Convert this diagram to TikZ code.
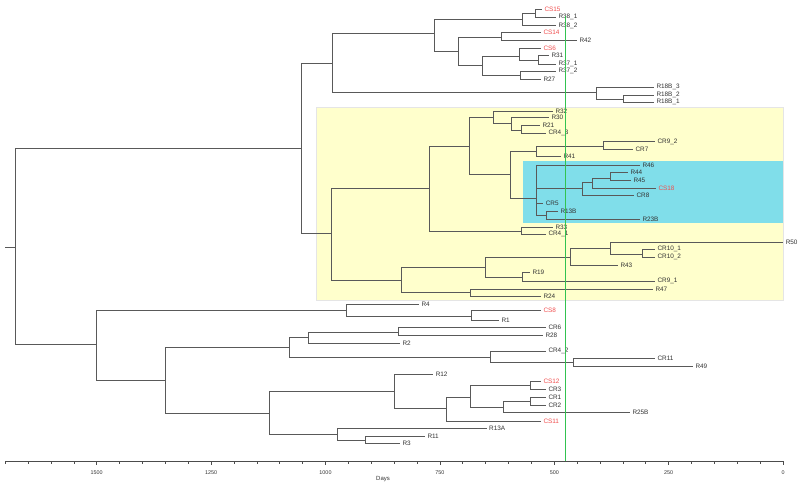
\documentclass[tikz,border=0pt]{standalone}
\usepackage{fontspec}
\setmainfont{Liberation Sans}
\definecolor{hlyel}{RGB}{255,255,204}
\definecolor{hlcyan}{RGB}{128,222,234}
\definecolor{csred}{RGB}{240,80,80}
\definecolor{gline}{RGB}{50,195,80}
\begin{document}
\begin{tikzpicture}[x=1pt,y=-1pt,
  every node/.style={font=\fontsize{6.4}{7}\selectfont},
  lf/.style={anchor=west,inner xsep=2.5pt,inner ysep=0.5pt,outer sep=0pt,text=black!80},
  lfr/.style={lf,text=csred},
  br/.style={black!65,line width=0.75pt},
  tk/.style={black!70,line width=0.6pt},
  tl/.style={font=\fontsize{5.4}{6}\selectfont,text=black!80,inner sep=0pt}]
\useasboundingbox (0,0) rectangle (800,487);
\fill[hlyel,draw=black!10] (316,107) rectangle (783,300);
\fill[hlcyan] (523,161) rectangle (783,223);
% inner nodes
\coordinate (stub) at (5,247); \coordinate (root) at (15,247);
\coordinate (a) at (301,148.3); \coordinate (a1) at (332,63.3);
\coordinate (t1) at (434,33.3); \coordinate (t11) at (522,19.3); \coordinate (t111) at (535,13.3);
\coordinate (t12) at (458.3,51.7); \coordinate (t121) at (501,37.3); \coordinate (t122) at (482.7,65);
\coordinate (t1221) at (519.3,56); \coordinate (t12211) at (538,60); \coordinate (t1222) at (520.7,75);
\coordinate (t2) at (596,92.7); \coordinate (t21) at (623,99);
\coordinate (y) at (331,233.3); \coordinate (y1) at (429,188.3); \coordinate (y11) at (469.3,146.7);
\coordinate (y111) at (493.3,117.3); \coordinate (y1111) at (511.7,123.3); \coordinate (y11111) at (521,130);
\coordinate (y112) at (510.7,174); \coordinate (y1121) at (536,151.7); \coordinate (y11211) at (603.3,146);
\coordinate (c) at (536,198); \coordinate (c1) at (582.3,188.3); \coordinate (c11) at (592.7,182.7);
\coordinate (c111) at (610,178.3); \coordinate (c2) at (546,215);
\coordinate (y12) at (521,231); \coordinate (y2) at (401,280); \coordinate (y21) at (485.3,267.3);
\coordinate (y211) at (570.7,257.3); \coordinate (y2111) at (610,248.3); \coordinate (y21111) at (642.7,254);
\coordinate (y212) at (522.7,277.3); \coordinate (y22) at (470,292.7);
\coordinate (b) at (96,344.3); \coordinate (b1) at (346,310); \coordinate (b11) at (471.7,316);
\coordinate (b2) at (165.7,380); \coordinate (b21) at (289.3,347.7); \coordinate (b211) at (308.3,337.7);
\coordinate (b2111) at (398.3,332.3); \coordinate (b212) at (490,357.3); \coordinate (b2121) at (573.3,362.3);
\coordinate (b22) at (269,413.3); \coordinate (b221) at (394.3,391.7); \coordinate (b2211) at (446.7,408.3);
\coordinate (b22111) at (470,397.3); \coordinate (b221111) at (530,385.7); \coordinate (b221112) at (503.3,407.3);
\coordinate (b2211121) at (530.7,401.7); \coordinate (b222) at (337.3,434.3); \coordinate (b2221) at (365.7,440);
% leaves
\node[lfr] (cs15) at (542,9.3) {CS15};
\node[lf] (r38-1) at (556,17.3) {R38\_1};
\node[lf] (r38-2) at (556,25.7) {R38\_2};
\node[lfr] (cs14) at (541,32.7) {CS14};
\node[lf] (r42) at (577,40.7) {R42};
\node[lfr] (cs6) at (541,48.3) {CS6};
\node[lf] (r31) at (549,55) {R31};
\node[lf] (r37-1) at (556,64) {R37\_1};
\node[lf] (r37-2) at (556,71) {R37\_2};
\node[lf] (r27) at (541,79) {R27};
\node[lf] (r18b-3) at (654,87.3) {R18B\_3};
\node[lf] (r18b-2) at (654,95) {R18B\_2};
\node[lf] (r18b-1) at (654,102.3) {R18B\_1};
\node[lf] (r32) at (553,111) {R32};
\node[lf] (r30) at (549,117.3) {R30};
\node[lf] (r21) at (540,125) {R21};
\node[lf] (cr4-3) at (546,133.3) {CR4\_3};
\node[lf] (cr9-2) at (655,141.7) {CR9\_2};
\node[lf] (cr7) at (633,149.3) {CR7};
\node[lf] (r41) at (561,156.7) {R41};
\node[lf] (r46) at (640,165) {R46};
\node[lf] (r44) at (628,172.3) {R44};
\node[lf] (r45) at (631,180) {R45};
\node[lfr] (cs18) at (656,188.3) {CS18};
\node[lf] (cr8) at (634,195.7) {CR8};
\node[lf] (cr5) at (543.3,203.3) {CR5};
\node[lf] (r13b) at (558,211) {R13B};
\node[lf] (r23b) at (640,219.3) {R23B};
\node[lf] (r33) at (553,227.7) {R33};
\node[lf] (cr4-1) at (546,234) {CR4\_1};
\node[lf] (r50) at (783.3,242.7) {R50};
\node[lf] (cr10-1) at (655,249.3) {CR10\_1};
\node[lf] (cr10-2) at (655,257.3) {CR10\_2};
\node[lf] (r43) at (618,265.7) {R43};
\node[lf] (r19) at (530,272.7) {R19};
\node[lf] (cr9-1) at (655,281) {CR9\_1};
\node[lf] (r47) at (653,289) {R47};
\node[lf] (r24) at (541,296) {R24};
\node[lf] (r4) at (419,304) {R4};
\node[lfr] (cs8) at (541,310.7) {CS8};
\node[lf] (r1) at (499,320) {R1};
\node[lf] (cr6) at (546,327.5) {CR6};
\node[lf] (r28) at (543,335) {R28};
\node[lf] (r2) at (400,343) {R2};
\node[lf] (cr4-2) at (546,351) {CR4\_2};
\node[lf] (cr11) at (655,358.3) {CR11};
\node[lf] (r49) at (693,366.7) {R49};
\node[lf] (r12) at (433.3,374) {R12};
\node[lfr] (cs12) at (541,381.3) {CS12};
\node[lf] (cr3) at (546,389.3) {CR3};
\node[lf] (cr1) at (546,397.3) {CR1};
\node[lf] (cr2) at (546,405) {CR2};
\node[lf] (r25b) at (630,412.3) {R25B};
\node[lfr] (cs11) at (541,421) {CS11};
\node[lf] (r13a) at (486.7,428) {R13A};
\node[lf] (r11) at (425,436) {R11};
\node[lf] (r3) at (400,443.5) {R3};
% branches
\draw[br] (stub) -- (root);
\foreach \p/\c in {root/a,root/b,a/a1,a/y,
  a1/t1,a1/t2,t1/t11,t1/t12,t11/t111,t11/r38-2,t111/cs15,t111/r38-1,
  t12/t121,t12/t122,t121/cs14,t121/r42,t122/t1221,t122/t1222,t1221/cs6,t1221/t12211,
  t12211/r31,t12211/r37-1,t1222/r37-2,t1222/r27,t2/r18b-3,t2/t21,t21/r18b-2,t21/r18b-1,
  y/y1,y/y2,y1/y11,y1/y12,y11/y111,y11/y112,y111/r32,y111/y1111,y1111/r30,y1111/y11111,
  y11111/r21,y11111/cr4-3,y112/y1121,y112/c,y1121/y11211,y1121/r41,y11211/cr9-2,y11211/cr7,
  c/r46,c/c1,c/cr5,c/c2,c1/c11,c1/cr8,c11/c111,c11/cs18,c111/r44,c111/r45,c2/r13b,c2/r23b,
  y12/r33,y12/cr4-1,y2/y21,y2/y22,y21/y211,y21/y212,y211/y2111,y211/r43,y2111/r50,y2111/y21111,
  y21111/cr10-1,y21111/cr10-2,y212/r19,y212/cr9-1,y22/r47,y22/r24,
  b/b1,b/b2,b1/r4,b1/b11,b11/cs8,b11/r1,b2/b21,b2/b22,b21/b211,b21/b212,b211/b2111,b211/r2,
  b2111/cr6,b2111/r28,b212/cr4-2,b212/b2121,b2121/cr11,b2121/r49,b22/b221,b22/b222,
  b221/r12,b221/b2211,b2211/b22111,b2211/cs11,b22111/b221111,b22111/b221112,
  b221111/cs12,b221111/cr3,b221112/b2211121,b221112/r25b,b2211121/cr1,b2211121/cr2,
  b222/r13a,b222/b2221,b2221/r11,b2221/r3}
  \draw[br] (\p) |- (\c);
% time axis
\coordinate (ax0) at (5,461); \coordinate (ax1) at (783,461);
\draw[tk] (ax0) -- (ax1);
\foreach \d in {0,50,...,1700} \draw[tk] ({783-0.4575*\d},461) -- ++(0,2.5);
\foreach \d in {0,250,...,1500} {
  \draw[tk] ({783-0.4575*\d},461) -- ++(0,4);
  \node[tl] (tick\d) at ({783-0.4575*\d},472.3) {\d};}
\node[tl,font=\fontsize{6}{7}\selectfont] (days) at (383,479) {Days};
% marker line
\coordinate (gtop) at (565,16); \coordinate (gbot) at (565,461);
\draw[gline,line width=1pt] (gtop) -- (gbot);
\end{tikzpicture}
\end{document}
